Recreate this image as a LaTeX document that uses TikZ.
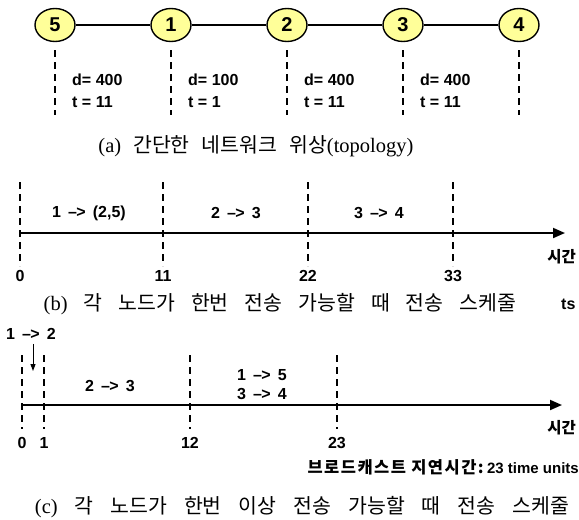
\documentclass[tikz,border=0pt]{standalone}
\usepackage{fontspec}
\setmainfont{Liberation Serif}
\newfontfamily\lab{Liberation Sans}
\newfontfamily\kr{Noto Sans CJK KR}
\newfontfamily\krwide[LetterSpace=9]{Noto Sans CJK KR}
\usetikzlibrary{shapes.geometric,arrows.meta}
\definecolor{nodeyellow}{HTML}{FFFF99}
% arrow sign used in the schedule labels
\newcommand\sendto{\,–\kern-0.6pt>\,}
% wide gap between caption words
\newcommand\wsp{\hspace{\capgap}}
\newlength\capgap
\tikzset{
  vert/.style={ellipse, draw=black, line width=1.4pt, fill=nodeyellow,
    minimum width=40pt, minimum height=33pt, inner sep=0pt,
    font=\lab\bfseries\fontsize{20}{20}\selectfont},
  link/.style={line width=1.6pt},
  guide/.style={line width=1.9pt, dash pattern=on 7pt off 5pt},
  axisline/.style={line width=1.9pt, -{Triangle[length=12pt,width=10pt]}},
  txt/.style={inner sep=0pt, font=\lab\bfseries\fontsize{16}{20}\selectfont},
  ticklab/.style={inner sep=0pt, font=\lab\bfseries\fontsize{16}{18}\selectfont},
  krb/.style={inner sep=0pt, font=\kr\bfseries\fontsize{15.5}{18}\selectfont},
  captext/.style={inner sep=0pt, font=\fontsize{20.5}{24}\selectfont},
}
\begin{document}
\begin{tikzpicture}[x=1pt, y=-1pt]
\fill[white] (0,0) rectangle (579,520);
\useasboundingbox (0,0) rectangle (579,520);

% ---------- (a) network topology ----------
\foreach \x in {55,171,287,403,519}{
  \draw[guide] (\x,50) -- (\x,115);
}
\node[vert] (n5) at (55,25) {5};
\node[vert] (n1) at (171,25) {1};
\node[vert] (n2) at (287,25) {2};
\node[vert] (n3) at (403,25) {3};
\node[vert] (n4) at (519,25) {4};
\draw[link] (n5) -- (n1);
\draw[link] (n1) -- (n2);
\draw[link] (n2) -- (n3);
\draw[link] (n3) -- (n4);

\node[txt, anchor=west] (d51) at (72,80) {d= 400};
\node[txt, anchor=west] (t51) at (72,102) {t = 11};
\node[txt, anchor=west] (d12) at (188,80) {d= 100};
\node[txt, anchor=west] (t12) at (188,102) {t = 1};
\node[txt, anchor=west] (d23) at (304,80) {d= 400};
\node[txt, anchor=west] (t23) at (304,102) {t = 11};
\node[txt, anchor=west] (d34) at (420,80) {d= 400};
\node[txt, anchor=west] (t34) at (420,102) {t = 11};

\setlength\capgap{12pt}
\node[captext] (capa) at (256,146) {(a)\wsp{\kr 간단한\wsp 네트워크\wsp 위상}(topology)};

% ---------- (b) one transmission per node ----------
\foreach \x in {20,163,308,453}{
  \draw[guide] (\x,182) -- (\x,266);
}
\coordinate (b0) at (20,233);
\coordinate (bend) at (565,233);
\draw[axisline] (b0) -- (bend);
\node[ticklab] (bt0) at (20,276) {0};
\node[ticklab] (bt1) at (163,276) {11};
\node[ticklab] (bt2) at (308,276) {22};
\node[ticklab] (bt3) at (453,276) {33};
\node[txt] (bs1) at (89,213) {1 \sendto{} (2,5)};
\node[txt] (bs2) at (236,213) {2 \sendto{} 3};
\node[txt] (bs3) at (379,213) {3 \sendto{} 4};
\node[krb, anchor=east] (btime) at (576,257) {시간};
\setlength\capgap{16pt}
\node[captext] (capb) at (280,304) {(b)\wsp{\kr 각\wsp 노드가\wsp 한번\wsp 전송\wsp 가능할\wsp 때\wsp 전송\wsp 스케줄}};
\node[txt, anchor=west] (bts) at (561,304) {ts};

% ---------- (c) multiple transmissions per node ----------
\foreach \x in {22,44,190,337}{
  \draw[guide] (\x,355) -- (\x,429);
}
\coordinate (c0) at (22,405);
\coordinate (cend) at (562,405);
\draw[axisline] (c0) -- (cend);
\node[ticklab] (ct0) at (22,443) {0};
\node[ticklab] (ct1) at (44,443) {1};
\node[ticklab] (ct2) at (190,443) {12};
\node[ticklab] (ct3) at (337,443) {23};
\node[txt] (cs0) at (31,334) {1 \sendto{} 2};
\coordinate (carr) at (33,371);
\draw[line width=1pt, -{Triangle[length=7pt,width=5pt]}] (cs0.south -| carr) ++(0,4) -- (carr);
\node[txt] (cs1) at (110,386) {2 \sendto{} 3};
\node[txt] (cs2) at (262,375) {1 \sendto{} 5};
\node[txt] (cs3) at (262,394) {3 \sendto{} 4};
\node[krb, anchor=east] (ctime) at (576,428) {시간};
\node[anchor=east, inner sep=0pt] (delay) at (579,467)
  {{\krwide\bfseries\fontsize{16.5}{18}\selectfont 브로드캐스트 지연시간:} {\lab\bfseries\fontsize{15}{18}\selectfont 23 time units}};
\setlength\capgap{17pt}
\node[captext] (capc) at (302,507) {(c)\wsp{\kr 각\wsp 노드가\wsp 한번\wsp 이상\wsp 전송\wsp 가능할\wsp 때\wsp 전송\wsp 스케줄}};
\end{tikzpicture}
\end{document}
